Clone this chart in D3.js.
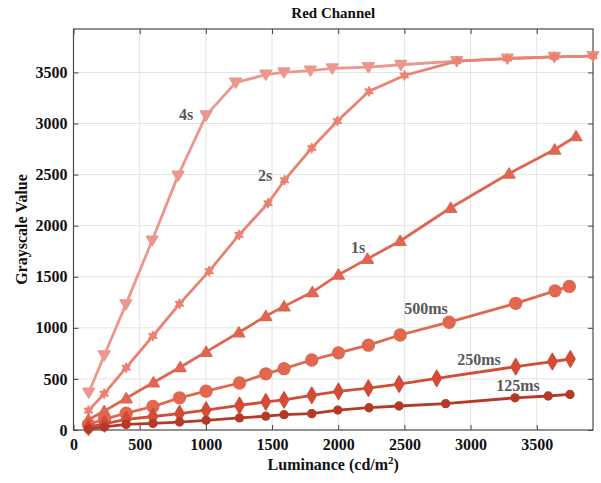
<!DOCTYPE html>
<html>
<head>
<meta charset="utf-8">
<script src="https://cdn.jsdelivr.net/npm/d3@7"></script>
<style>
  body { margin: 0; background: #fff; }
  svg text { font-family: "Liberation Serif", "Times New Roman", serif; font-weight: bold; }
</style>
</head>
<body>
<svg id="chart" width="601" height="483"></svg>
<script>
// Exposure series: luminance (cd/m²) and grayscale response
const seriesNames = ["4s", "2s", "1s", "500ms", "250ms", "125ms"];

const lum4s   = [115, 232, 396, 594, 790, 1002, 1225, 1453, 1590, 1790, 1955, 2228, 2473, 2896, 3278, 3633, 3925];
const val4s   = [365, 730, 1230, 1855, 2490, 3080, 3400, 3478, 3500, 3518, 3540, 3552, 3575, 3610, 3636, 3652, 3660];

const lum2s   = [113, 232, 398, 600, 801, 1025, 1251, 1470, 1594, 1800, 1994, 2233, 2500, 2896, 3278, 3633, 3925];
const val2s   = [190, 355, 610, 920, 1235, 1555, 1910, 2220, 2445, 2760, 3025, 3315, 3470, 3610, 3636, 3652, 3660];

const lum1s   = [113, 232, 398, 604, 806, 1002, 1249, 1453, 1591, 1805, 2002, 2221, 2468, 2850, 3291, 3636, 3797];
const val1s   = [100, 185, 310, 465, 615, 765, 955, 1115, 1210, 1350, 1520, 1675, 1850, 2175, 2510, 2745, 2875];

const lum500  = [113, 234, 398, 600, 801, 1002, 1254, 1453, 1591, 1800, 2002, 2228, 2468, 2838, 3341, 3638, 3746];
const val500  = [55, 105, 165, 230, 315, 380, 460, 550, 600, 685, 755, 830, 930, 1055, 1240, 1362, 1405];

const lum250  = [113, 234, 398, 600, 801, 1002, 1254, 1453, 1591, 1800, 2002, 2228, 2460, 2744, 3341, 3618, 3754];
const val250  = [28, 60, 105, 132, 160, 195, 240, 275, 295, 340, 378, 410, 450, 505, 620, 670, 695];

const lum125  = [113, 234, 398, 600, 801, 1002, 1254, 1453, 1591, 1800, 1997, 2233, 2460, 2812, 3336, 3587, 3751];
const val125  = [8, 30, 55, 65, 78, 95, 118, 135, 150, 160, 195, 218, 235, 258, 315, 333, 348];

const xTicks = [0, 500, 1000, 1500, 2000, 2500, 3000, 3500];
const yTicks = [0, 500, 1000, 1500, 2000, 2500, 3000, 3500];

const lums = [lum4s, lum2s, lum1s, lum500, lum250, lum125];
const vals = [val4s, val2s, val1s, val500, val250, val125];
const colors = ["#EC978D", "#EA8272", "#DF6651", "#E1674F", "#D24C36", "#B43A28"];

const W = 601, H = 483;
const m = { left: 73.5, top: 29, right: 8, bottom: 53 };
const iw = W - m.left - m.right, ih = H - m.top - m.bottom;

const x = d3.scaleLinear().domain([0, 3925]).range([0, iw]);
const y = d3.scaleLinear().domain([0, 3925]).range([ih, 0]);

const svg = d3.select("#chart");
const g = svg.append("g").attr("transform", `translate(${m.left},${m.top})`);

// grid
g.append("g").selectAll("line").data(xTicks.slice(1)).join("line")
  .attr("x1", d => x(d)).attr("x2", d => x(d)).attr("y1", 0).attr("y2", ih)
  .attr("stroke", "#e3e3e3").attr("stroke-width", 1);
g.append("g").selectAll("line").data(yTicks.slice(1)).join("line")
  .attr("y1", d => y(d)).attr("y2", d => y(d)).attr("x1", 0).attr("x2", iw)
  .attr("stroke", "#e3e3e3").attr("stroke-width", 1);

// axes with inward ticks on all sides
const tickLen = 5;
const xAxis = g.append("g").attr("transform", `translate(0,${ih})`)
  .call(d3.axisBottom(x).tickValues(xTicks).tickSize(-tickLen).tickPadding(9).tickFormat(d3.format("d")));
const yAxis = g.append("g")
  .call(d3.axisLeft(y).tickValues(yTicks).tickSize(-tickLen).tickPadding(6).tickFormat(d3.format("d")));
const xTop = g.append("g")
  .call(d3.axisTop(x).tickValues(xTicks).tickSize(-tickLen).tickFormat(""));
const yRight = g.append("g").attr("transform", `translate(${iw},0)`)
  .call(d3.axisRight(y).tickValues(yTicks).tickSize(-tickLen).tickFormat(""));
[xAxis, yAxis, xTop, yRight].forEach(a => {
  a.select(".domain").remove();
  a.selectAll(".tick line").attr("stroke", "#444").attr("stroke-width", 1);
  a.selectAll(".tick text").attr("fill", "#111").style("font-size", "16px")
    .style("font-family", "'Liberation Serif', serif").style("font-weight", "bold");
});
g.append("rect").attr("x", 0).attr("y", 0).attr("width", iw).attr("height", ih)
  .attr("fill", "none").attr("stroke", "#4a4a4a").attr("stroke-width", 1.2);

// six-pointed star for the 2s series
function hexagram(r) {
  const pts = [];
  for (let i = 0; i < 12; i++) {
    const a = Math.PI / 6 * i - Math.PI / 2;
    const rr = i % 2 === 0 ? r : r * 0.45;
    pts.push([rr * Math.cos(a), rr * Math.sin(a)]);
  }
  return "M" + pts.map(p => p.join(",")).join("L") + "Z";
}

// marker shapes per series
const tri = 5.8;
const markers = [
  `M${-tri},${-tri * 0.75}L${tri},${-tri * 0.75}L0,${tri * 0.95}Z`,   // down triangle
  hexagram(4.6),                                                       // star
  `M${-tri},${tri * 0.75}L${tri},${tri * 0.75}L0,${-tri * 0.95}Z`,    // up triangle
  d3.symbol(d3.symbolCircle, 110)(),
  d3.symbol(d3.symbolDiamond, 75)(),
  d3.symbol(d3.symbolCircle, 48)()
];

const line = d3.line().x(d => x(d[0])).y(d => y(d[1]));

seriesNames.forEach((name, i) => {
  const pts = lums[i].map((l, j) => [l, vals[i][j]]);
  const sg = g.append("g");
  sg.append("path").datum(pts).attr("d", line)
    .attr("fill", "none").attr("stroke", colors[i]).attr("stroke-width", 2.8)
    .attr("stroke-linejoin", "round");
  sg.selectAll("path.mk").data(pts).join("path").attr("class", "mk")
    .attr("transform", d => `translate(${x(d[0])},${y(d[1])})`)
    .attr("d", markers[i])
    .attr("fill", colors[i]).attr("stroke", colors[i]).attr("stroke-width", 1.5)
    .attr("stroke-linejoin", "round");
});

// series labels
const labelPos = [[186, 114], [265, 175], [358, 247], [426, 308], [479, 359], [518, 385]];
seriesNames.forEach((name, i) => {
  svg.append("text").attr("x", labelPos[i][0]).attr("y", labelPos[i][1])
    .attr("text-anchor", "middle").attr("dominant-baseline", "central")
    .attr("fill", "#595959").style("font-size", "16px").text(name);
});

// title and axis labels
svg.append("text").attr("x", m.left + iw / 2).attr("y", 13).attr("text-anchor", "middle")
  .attr("dominant-baseline", "central").attr("fill", "#111").style("font-size", "15px").text("Red Channel");

const xl = svg.append("text").attr("x", m.left + iw / 2).attr("y", 470).attr("text-anchor", "middle")
  .attr("fill", "#111").style("font-size", "16px");
xl.append("tspan").text("Luminance (cd/m");
xl.append("tspan").attr("dy", -6).style("font-size", "11px").text("2");
xl.append("tspan").attr("dy", 6).text(")");

svg.append("text").attr("transform", `translate(27,${m.top + ih / 2}) rotate(-90)`)
  .attr("text-anchor", "middle").attr("fill", "#111").style("font-size", "16px").text("Grayscale Value");
</script>
</body>
</html>
